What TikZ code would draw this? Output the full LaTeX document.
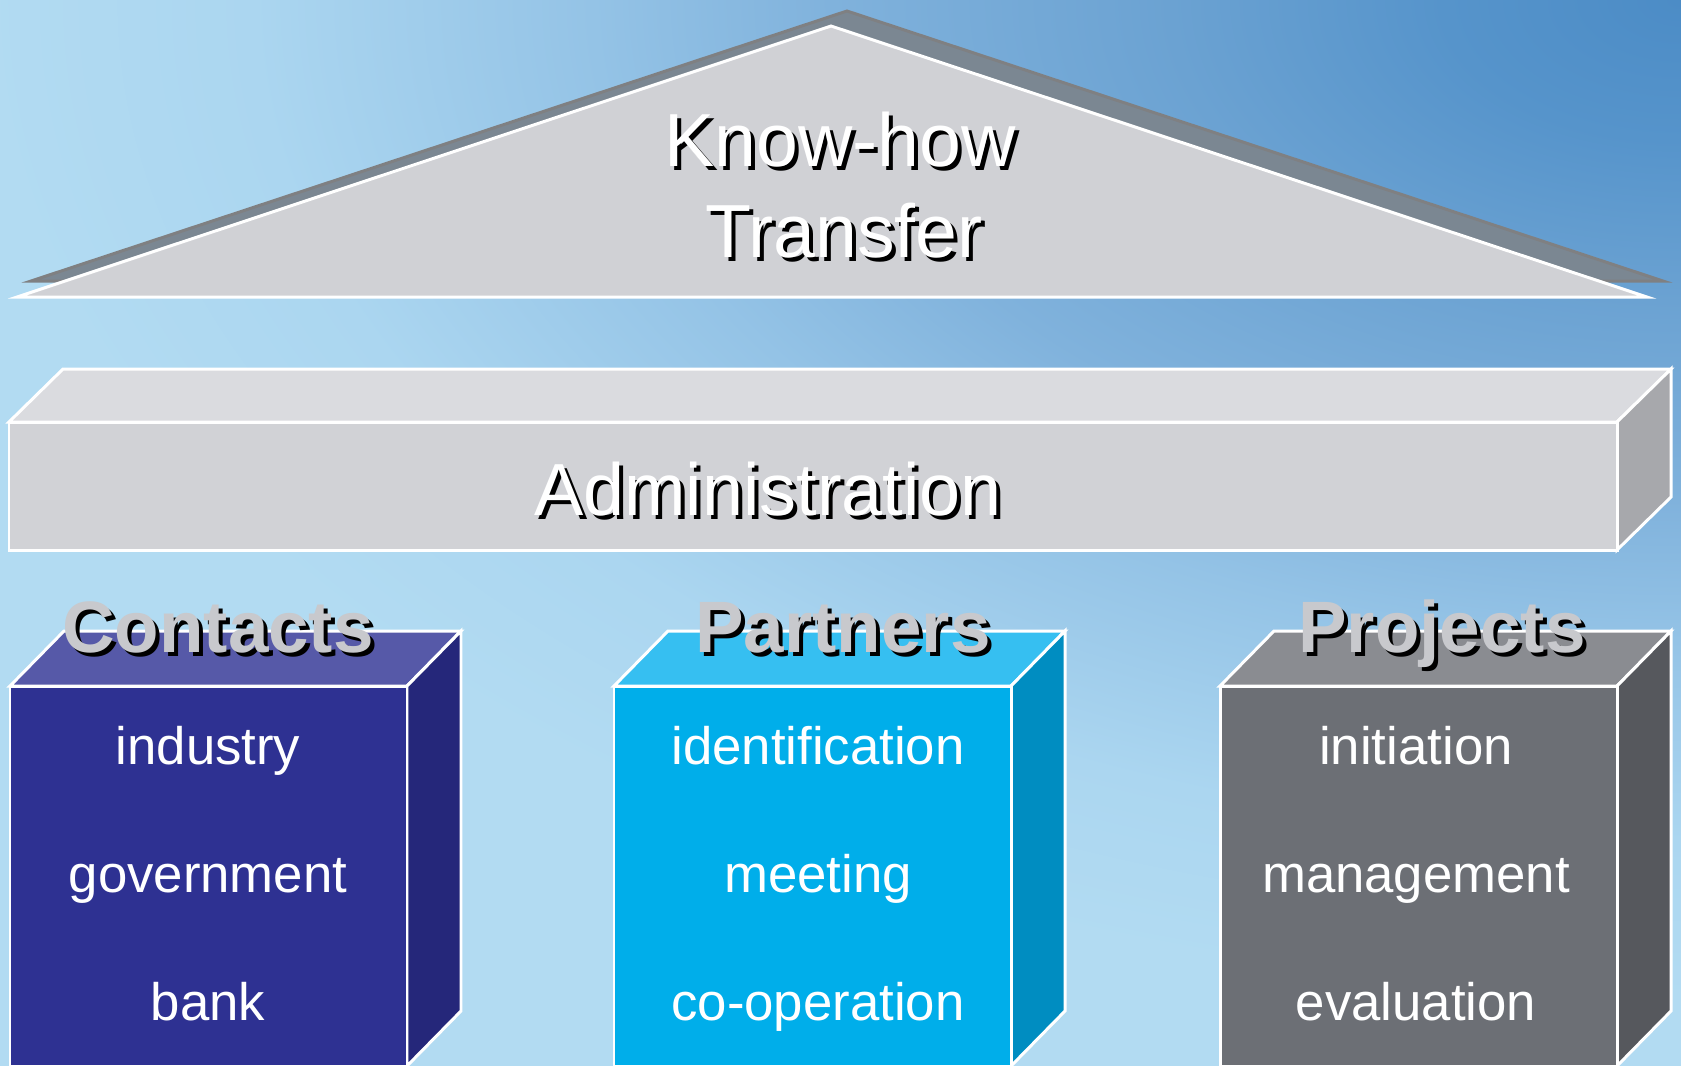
\documentclass[tikz,border=0pt]{standalone}
\usepackage{fontspec}
\setmainfont{Liberation Sans}

\definecolor{SkyLight}{HTML}{B2DBF2}
\definecolor{SkyA}{HTML}{4C8CC6}
\definecolor{SkyB}{HTML}{5694CB}
\definecolor{SkyC}{HTML}{6BA2D2}
\definecolor{SkyD}{HTML}{80B2DC}
\definecolor{SkyE}{HTML}{94C3E6}
\definecolor{SkyF}{HTML}{ABD6F0}
\definecolor{RoofGray}{HTML}{D0D1D5}
\definecolor{RoofShade}{HTML}{7B8792}
\definecolor{RoofShadeLine}{HTML}{7F8082}
\definecolor{AdminFront}{HTML}{D1D2D6}
\definecolor{AdminTop}{HTML}{DADBDF}
\definecolor{AdminSide}{HTML}{A7A8AC}
\definecolor{ContactsFront}{HTML}{2E3192}
\definecolor{ContactsTop}{HTML}{5659A8}
\definecolor{ContactsSide}{HTML}{25277A}
\definecolor{PartnersFront}{HTML}{00AEEA}
\definecolor{PartnersTop}{HTML}{36BFF1}
\definecolor{PartnersSide}{HTML}{008DC1}
\definecolor{ProjectsFront}{HTML}{6C6F75}
\definecolor{ProjectsTop}{HTML}{8A8C91}
\definecolor{ProjectsSide}{HTML}{56585D}
\definecolor{HeadGray}{HTML}{C8C9CD}

% glow in the upper right corner of the sky (25bp = edge of the path)
\pgfdeclareradialshading{skyglow}{\pgfpoint{0bp}{0bp}}{%
  color(0bp)=(SkyA); color(3.5bp)=(SkyB); color(7.5bp)=(SkyC);
  color(12.5bp)=(SkyD); color(16bp)=(SkyE); color(21bp)=(SkyF);
  color(25bp)=(SkyLight); color(50bp)=(SkyLight)}

\begin{document}
\begin{tikzpicture}[x=0.01cm,y=-0.01cm,
  outline/.style={draw=white,line width=0.85pt},
  bigfont/.style={font=\fontsize{21.4pt}{25pt}\selectfont},
  adminfont/.style={font=\fontsize{21pt}{25pt}\selectfont},
  title/.style={anchor=base,inner sep=0pt,text=white},
  titleshadow/.style={anchor=base,inner sep=0pt,text=black},
  head/.style={anchor=base,inner sep=0pt,text=HeadGray,font=\fontsize{20.7pt}{24pt}\selectfont\bfseries},
  headshadow/.style={head,text=black},
  item/.style={anchor=base,inner sep=0pt,text=white,font=\fontsize{15pt}{18pt}\selectfont}
]
  \path[use as bounding box] (0,0) rectangle (1681,1066);

  % sky
  \fill[SkyLight] (0,0) rectangle (1681,1066);
  \begin{scope}
    \clip (0,0) rectangle (1681,1066);
    \shade[shading=skyglow] (1681,0) ellipse [x radius=1700, y radius=1000];
  \end{scope}

  % roof
  \filldraw[fill=RoofShade,draw=RoofShadeLine,line width=0.85pt]
    (31,281) -- (847,11) -- (1663,281) -- cycle;
  \filldraw[fill=RoofGray,outline] (17,297) -- (831,26) -- (1647,297) -- cycle;

  \node[titleshadow,bigfont] (knowhow-sh) at (844,170) {Know-how};
  \node[title,bigfont] (knowhow) at (840,166) {Know-how};
  \node[titleshadow,bigfont] (transfer-sh) at (848,261) {Transfer};
  \node[title,bigfont] (transfer) at (844,257) {Transfer};

  % administration beam
  \filldraw[fill=AdminTop,outline] (9,422) -- (63,369) -- (1671,369) -- (1617,422) -- cycle;
  \filldraw[fill=AdminSide,outline] (1617,422) -- (1671,369) -- (1671,497) -- (1617,550) -- cycle;
  \filldraw[fill=AdminFront,outline] (9,422) rectangle (1617,550);

  \node[titleshadow,adminfont] (admin-sh) at (772,519) {Administration};
  \node[title,adminfont] (admin) at (768,515) {Administration};

  % contacts
  \filldraw[fill=ContactsTop,outline] (10,686) -- (64,631) -- (461,631) -- (407,686) -- cycle;
  \filldraw[fill=ContactsSide,outline] (407,686) -- (461,631) -- (461,1011) -- (407,1066) -- cycle;
  \filldraw[fill=ContactsFront,outline] (10,686) rectangle (407,1066);

  \node[headshadow] (contacts-sh) at (222,656) {Contacts};
  \node[head] (contacts) at (218,652) {Contacts};
  \node[item] (industry) at (208,764) {industry};
  \node[item] (government) at (208,892) {government};
  \node[item] (bank) at (208,1020) {bank};

  % partners
  \filldraw[fill=PartnersTop,outline] (614,686) -- (668,631) -- (1065,631) -- (1011,686) -- cycle;
  \filldraw[fill=PartnersSide,outline] (1011,686) -- (1065,631) -- (1065,1011) -- (1011,1066) -- cycle;
  \filldraw[fill=PartnersFront,outline] (614,686) rectangle (1011,1066);

  \node[headshadow] (partners-sh) at (847,656) {Partners};
  \node[head] (partners) at (843,652) {Partners};
  \node[item] (identification) at (818,764) {identification};
  \node[item] (meeting) at (818,892) {meeting};
  \node[item] (cooperation) at (818,1020) {co-operation};

  % projects
  \filldraw[fill=ProjectsTop,outline] (1220,686) -- (1274,631) -- (1671,631) -- (1617,686) -- cycle;
  \filldraw[fill=ProjectsSide,outline] (1617,686) -- (1671,631) -- (1671,1011) -- (1617,1066) -- cycle;
  \filldraw[fill=ProjectsFront,outline] (1220,686) rectangle (1617,1066);

  \node[headshadow] (projects-sh) at (1446,656) {Projects};
  \node[head] (projects) at (1442,652) {Projects};
  \node[item] (initiation) at (1416,764) {initiation};
  \node[item] (management) at (1416,892) {management};
  \node[item] (evaluation) at (1416,1020) {evaluation};
\end{tikzpicture}
\end{document}
